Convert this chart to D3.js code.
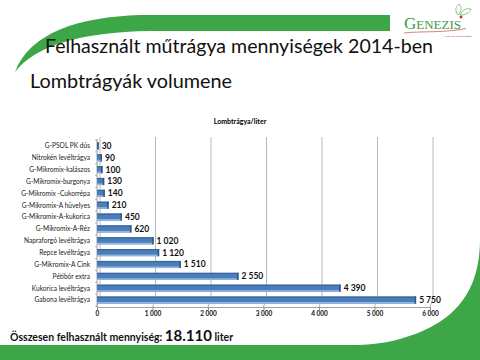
<!DOCTYPE html>
<html>
<head>
<meta charset="utf-8">
<script src="https://cdn.jsdelivr.net/npm/d3@7"></script>
<style>
  html, body { margin: 0; padding: 0; background: #fff; }
  svg { display: block; }
</style>
</head>
<body>
<div id="chart"></div>
<script>
// data
const categories = [
  'G-PSOL  PK dús', 'Nitrokén levéltrágya', 'G-Mikromix-kalászos', 'G-Mikromix-burgonya',
  'G-Mikromix -Cukorrépa', 'G-Mikromix-A hüvelyes', 'G-Mikromix-A-kukorica', 'G-Mikromix-A-Réz',
  'Napraforgó levéltrágya', 'Repce levéltrágya', 'G-Mikromix-A Cink', 'Pétibór extra',
  'Kukorica levéltrágya', 'Gabona levéltrágya'
];
const volumes = [30, 90, 100, 130, 140, 210, 450, 620, 1020, 1120, 1510, 2550, 4390, 5750];
const xTicks = [0, 1000, 2000, 3000, 4000, 5000, 6000];
const slideTitle = 'Felhasznált műtrágya mennyiségek 2014-ben';
const slideSubtitle = 'Lombtrágyák volumene';
const chartTitle = 'Lombtrágya/liter';
const totalLabel = 'Összesen felhasznált mennyiség: ';
const totalValue = '18.110';
const totalUnit = ' liter';

const width = 480, height = 360;
const green = '#3da647';
const font = 'Lato, "Open Sans", sans-serif';

const huLocale = d3.formatLocale({ decimal: ',', thousands: ' ', grouping: [3], currency: ['', ''] });
const fmt = huLocale.format(',d');

const svg = d3.select('#chart').append('svg')
  .attr('width', width)
  .attr('height', height);

// slide decoration
svg.append('path')
  .attr('d', 'M390,15 L140,15 C80,17 30,32 15,72 C35,46 80,32 150,31 L390,31 Z')
  .attr('fill', green);
svg.append('path')
  .attr('d', 'M480,242 C479,285 462,322 400,339 C385,343 370,345 350,345 L0,345 L0,360 L480,360 Z')
  .attr('fill', green);

// logo
const logo = svg.append('g').attr('class', 'logo');
logo.append('text')
  .attr('x', 404).attr('y', 29)
  .attr('font-family', '"Liberation Serif", serif')
  .attr('fill', '#3a9a45')
  .call(t => {
    t.append('tspan').attr('font-size', 17).text('G');
    t.append('tspan').attr('font-size', 13).text('ENEZIS');
  });
logo.append('circle').attr('cx', 461).attr('cy', 17).attr('r', 1.4).attr('fill', '#d2232a');
logo.append('path')
  .attr('d', 'M458,15 C455,11 455,7 459,4 C462,7 462,11 458,15 Z M460,15 C462,10 466,8 471,9 C470,13 465,15 460,15 Z')
  .attr('fill', 'none').attr('stroke', '#6cb86a').attr('stroke-width', 0.8);
logo.append('path')
  .attr('d', 'M404,33 C420,31 445,33 466,28.5')
  .attr('fill', 'none').attr('stroke', '#d2232a').attr('stroke-width', 0.6);
logo.append('text')
  .attr('x', 458).attr('y', 36.5).attr('text-anchor', 'middle')
  .attr('font-family', font).attr('font-size', 2).attr('fill', '#d2232a')
  .text('Minden, ami növénytermesztés');

// slide texts
svg.append('text')
  .attr('x', 45).attr('y', 53)
  .attr('font-family', font).attr('font-size', 19.5).attr('fill', '#111')
  .attr('textLength', 388).attr('lengthAdjust', 'spacingAndGlyphs')
  .text(slideTitle);
svg.append('text')
  .attr('x', 30).attr('y', 88)
  .attr('font-family', font).attr('font-size', 19).attr('fill', '#111')
  .attr('textLength', 202).attr('lengthAdjust', 'spacingAndGlyphs')
  .text(slideSubtitle);

svg.append('text')
  .attr('x', 10).attr('y', 341)
  .attr('font-family', font).attr('font-weight', 'bold').attr('fill', '#111')
  .call(t => {
    t.append('tspan').attr('font-size', 10.5).text(totalLabel);
    t.append('tspan').attr('font-size', 15).text(totalValue);
    t.append('tspan').attr('font-size', 10.5).text(totalUnit);
  });

// chart
svg.append('text')
  .attr('x', 240).attr('y', 124).attr('text-anchor', 'middle')
  .attr('font-family', font).attr('font-size', 7).attr('font-weight', 'bold')
  .text(chartTitle);

const x = d3.scaleLinear().domain([0, 6000]).range([97, 430]);
const y = d3.scaleBand().domain(categories).range([140, 306]).paddingInner(0.4).paddingOuter(0.2);

const backTop = 137, backBottom = 298, floorY = 307, depth = 3;
const chart = svg.append('g').attr('class', 'chart');

// back wall gridlines + floor slant
const grid = chart.append('g').attr('class', 'grid')
  .attr('stroke', '#a6a6a6').attr('stroke-width', 0.8).attr('fill', 'none');
grid.selectAll('path')
  .data(xTicks)
  .enter()
  .append('path')
  .attr('d', d => `M${x(d) + depth},${backTop} L${x(d) + depth},${backBottom} L${x(d)},${floorY}`);

// left axis
chart.append('line')
  .attr('x1', x(0)).attr('x2', x(0)).attr('y1', backTop + 2).attr('y2', floorY)
  .attr('stroke', '#8c8c8c').attr('stroke-width', 0.8);
chart.selectAll('.ytick')
  .data(categories.concat(['end']))
  .enter()
  .append('line')
  .attr('class', 'ytick')
  .attr('x1', x(0) - 2).attr('x2', x(0))
  .attr('y1', (d, i) => 140 + i * (166 / categories.length))
  .attr('y2', (d, i) => 140 + i * (166 / categories.length))
  .attr('stroke', '#8c8c8c').attr('stroke-width', 0.6);

// bottom axis
const xAxis = d3.axisBottom(x)
  .tickValues(xTicks)
  .tickSize(3)
  .tickFormat(fmt);
const ax = chart.append('g')
  .attr('transform', `translate(0,${floorY})`)
  .call(xAxis);
ax.select('.domain').attr('stroke', '#8c8c8c').attr('stroke-width', 0.8);
ax.selectAll('.tick line').attr('stroke', '#8c8c8c');
ax.selectAll('.tick text')
  .attr('font-family', font).attr('font-size', 6.5).attr('font-weight', 'bold').attr('fill', '#111')
  .attr('dy', '0.5em');

// category labels
chart.selectAll('.cat')
  .data(categories)
  .enter()
  .append('text')
  .attr('class', 'cat')
  .attr('x', 90)
  .attr('y', d => y(d) + y.bandwidth() / 2)
  .attr('dy', '0.35em')
  .attr('text-anchor', 'end')
  .attr('font-family', font).attr('font-size', 6.6).attr('fill', '#222')
  .text(d => d);

// 3d-ish bars
const bars = chart.selectAll('.bar')
  .data(categories.map((c, i) => ({ cat: c, value: volumes[i] })))
  .enter()
  .append('g')
  .attr('class', 'bar');

bars.append('rect')
  .attr('x', x(0))
  .attr('y', d => y(d.cat))
  .attr('width', d => x(d.value) - x(0))
  .attr('height', y.bandwidth())
  .attr('fill', '#4a7ebb');
bars.append('rect')
  .attr('x', x(0))
  .attr('y', d => y(d.cat))
  .attr('width', d => x(d.value) - x(0))
  .attr('height', 1.2)
  .attr('fill', '#3a659b');
bars.append('rect')
  .attr('x', x(0))
  .attr('y', d => y(d.cat) + y.bandwidth() - 1.6)
  .attr('width', d => x(d.value) - x(0))
  .attr('height', 1.6)
  .attr('fill', '#95b5e0');
bars.append('rect')
  .attr('x', d => x(d.value) - 1.5)
  .attr('y', d => y(d.cat))
  .attr('width', 1.5)
  .attr('height', y.bandwidth())
  .attr('fill', '#2f5888');

bars.append('text')
  .attr('x', d => x(d.value) + 3)
  .attr('y', d => y(d.cat) + y.bandwidth() / 2)
  .attr('dy', '0.35em')
  .attr('font-family', font).attr('font-size', 8.5).attr('font-weight', 'bold').attr('fill', '#111')
  .text(d => fmt(d.value));
</script>
</body>
</html>
